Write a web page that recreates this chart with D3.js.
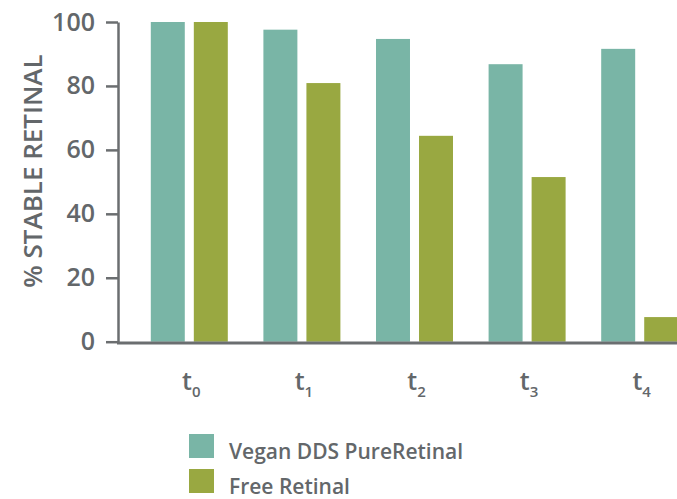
<!DOCTYPE html>
<html>
<head>
<meta charset="utf-8">
<script src="https://cdn.jsdelivr.net/npm/d3@7"></script>
<style>
  html, body { margin: 0; padding: 0; background: #fff; }
  svg { display: block; }
  text { font-family: "Open Sans", "Noto Sans", sans-serif; font-weight: 600; fill: #63676a; }
</style>
</head>
<body>
<svg id="chart" width="677" height="499"></svg>
<script>
const categories = ["0", "1", "2", "3", "4"];
const seriesNames = ["Vegan DDS PureRetinal", "Free Retinal"];
const veganValues = [100, 97.6, 94.7, 86.8, 91.6];
const freeValues = [100, 80.9, 64.4, 51.5, 7.7];
const yTicks = [0, 20, 40, 60, 80, 100];
const colors = ["#79b5a6", "#99a841"];
const yTitle = "% STABLE RETINAL";

const svg = d3.select("#chart");
const W = 677, H = 499;
const axisX = 118;

const y = d3.scaleLinear().domain([0, 100]).range([341.7, 22]);
const x0 = d3.scaleBand().domain(categories).range([133, 696]).padding(0);
const groupW = 77;
const x1 = d3.scaleBand().domain(seriesNames).range([0, groupW]).paddingInner(0.21);

const data = categories.map((c, i) => ({ cat: c, vals: [veganValues[i], freeValues[i]] }));

// bars
const groups = svg.append("g").selectAll("g").data(data).join("g")
  .attr("transform", d => `translate(${x0(d.cat) + x0.bandwidth() / 2 - groupW / 2},0)`);
groups.selectAll("rect").data(d => d.vals.map((v, j) => ({ name: seriesNames[j], v, j })))
  .join("rect")
  .attr("x", d => x1(d.name))
  .attr("width", x1.bandwidth())
  .attr("y", d => y(d.v))
  .attr("height", d => y(0) - y(d.v))
  .attr("fill", d => colors[d.j]);

// y axis
const yAxis = svg.append("g").attr("transform", `translate(${axisX},0)`)
  .call(d3.axisLeft(y).tickValues(yTicks).tickSize(12).tickSizeOuter(0).tickPadding(11));
yAxis.select(".domain").attr("stroke", "#6b6e70").attr("stroke-width", 2.5);
yAxis.selectAll(".tick line").attr("stroke", "#6b6e70").attr("stroke-width", 2.5);
yAxis.selectAll(".tick text").attr("font-size", 25).attr("fill", "#63676a")
  .attr("font-family", '"Open Sans", sans-serif').attr("font-weight", 650);

// x baseline
svg.append("line")
  .attr("x1", axisX - 1).attr("x2", W)
  .attr("y1", y(0) + 1.2).attr("y2", y(0) + 1.2)
  .attr("stroke", "#6b6e70").attr("stroke-width", 3);

// x axis labels
const xAxis = svg.append("g").attr("transform", `translate(2,${y(0)})`)
  .call(d3.axisBottom(x0).tickSize(0).tickPadding(0).tickFormat(() => ""));
xAxis.select(".domain").remove();
xAxis.selectAll(".tick text").each(function(d) {
  const t = d3.select(this).attr("y", 48).attr("dy", null)
    .attr("font-size", 25).attr("fill", "#63676a")
    .attr("font-family", '"Open Sans", sans-serif').attr("font-weight", 650)
    .attr("text-anchor", "middle");
  t.append("tspan").text("t");
  t.append("tspan").attr("font-size", 15).attr("dy", 7).text(d);
});

// y title
svg.append("text")
  .attr("transform", "translate(32,171) rotate(-90)")
  .attr("text-anchor", "middle")
  .attr("dominant-baseline", "central")
  .attr("font-size", 26)
  .attr("font-weight", 650)
  .text(yTitle);

// legend
const legend = svg.append("g").selectAll("g").data(seriesNames).join("g")
  .attr("transform", (d, i) => `translate(189,${434 + i * 35})`);
legend.append("rect").attr("width", 25).attr("height", 24).attr("fill", (d, i) => colors[i]);
legend.append("text").attr("x", 40).attr("y", 25).attr("font-size", 21).attr("font-weight", 650).text(d => d);
</script>
</body>
</html>
